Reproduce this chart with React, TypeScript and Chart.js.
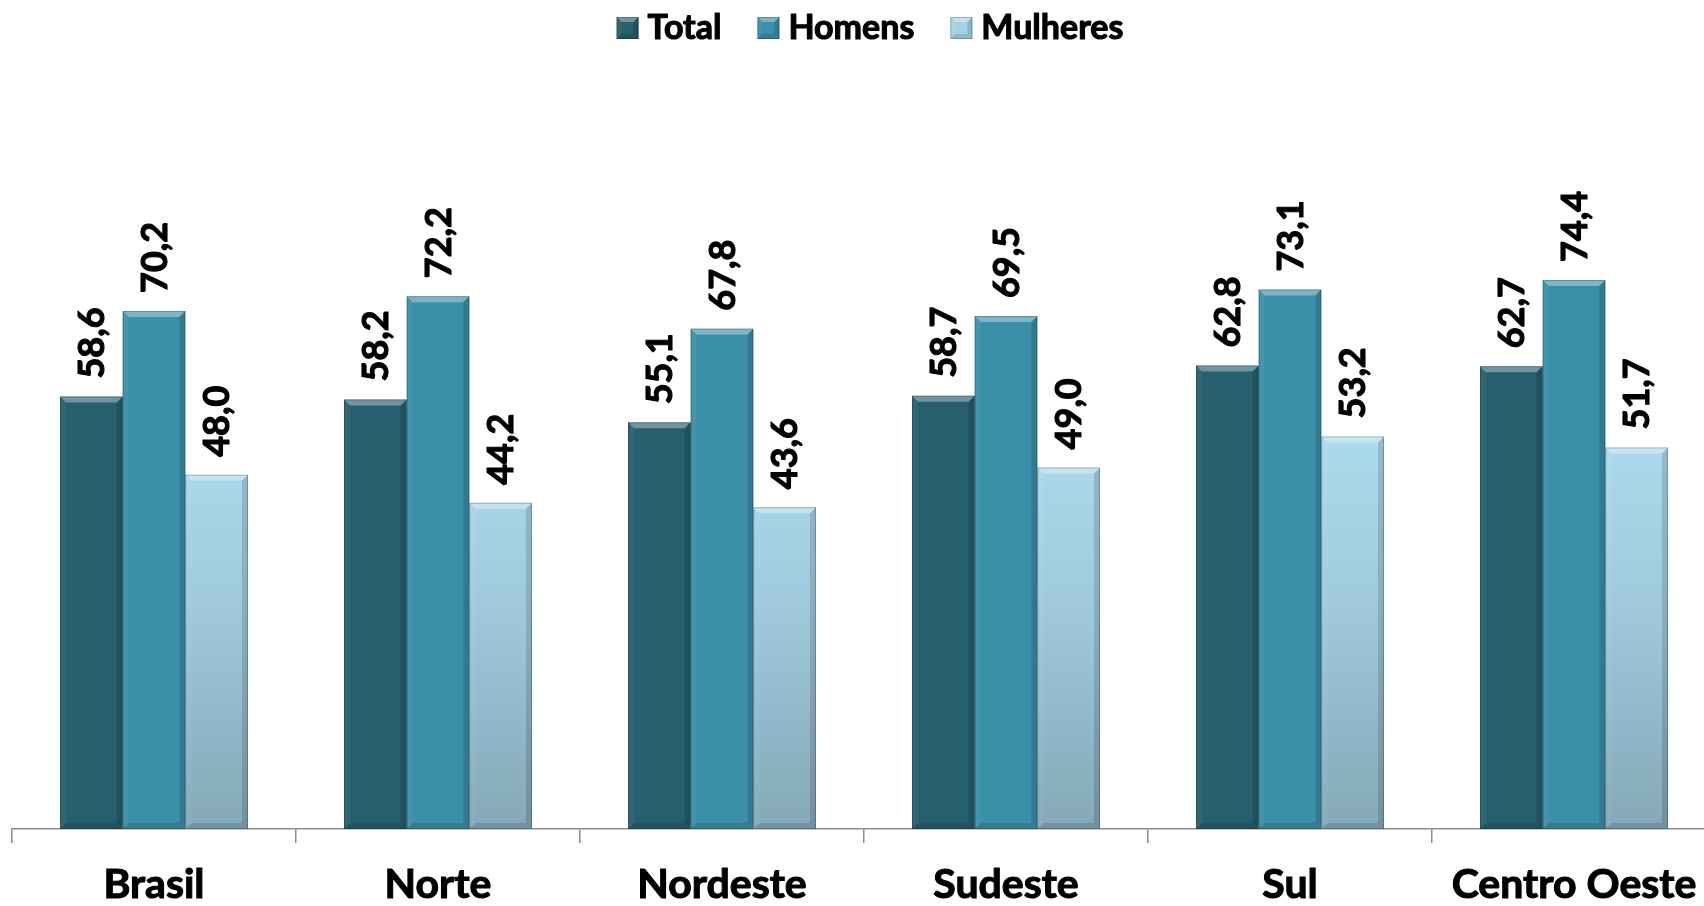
import React, { useEffect, useRef } from "react";
import { Chart, registerables } from "chart.js";

Chart.register(...registerables);

const categories = ["Brasil", "Norte", "Nordeste", "Sudeste", "Sul", "Centro Oeste"];
const totalValues = [58.6, 58.2, 55.1, 58.7, 62.8, 62.7];
const homensValues = [70.2, 72.2, 67.8, 69.5, 73.1, 74.4];
const mulheresValues = [48.0, 44.2, 43.6, 49.0, 53.2, 51.7];
const seriesLabels = ["Total", "Homens", "Mulheres"];
const seriesColors = ["#265f6e", "#3a8fa9", "#a3d2e4"];
const yMax = 100;

const FONT = "Lato, 'Open Sans', sans-serif";

function fmt(v: number) {
  return v.toFixed(1).replace(".", ",");
}

function bevel(ctx: CanvasRenderingContext2D, left: number, top: number, right: number, bottom: number, b: number) {
  const poly = (pts: number[][], fill: string) => {
    ctx.beginPath();
    ctx.moveTo(pts[0][0], pts[0][1]);
    for (let i = 1; i < pts.length; i++) ctx.lineTo(pts[i][0], pts[i][1]);
    ctx.closePath();
    ctx.fillStyle = fill;
    ctx.fill();
  };
  poly([[left, top], [right, top], [right - b, top + b], [left + b, top + b]], "rgba(255,255,255,0.34)");
  poly([[left, top], [left + b, top + b], [left + b, bottom - b], [left, bottom]], "rgba(255,255,255,0.05)");
  poly([[right, top], [right - b, top + b], [right - b, bottom - b], [right, bottom]], "rgba(0,0,0,0.14)");
  poly([[left, bottom], [left + b, bottom - b], [right - b, bottom - b], [right, bottom]], "rgba(0,0,0,0.12)");
  ctx.strokeStyle = "rgba(0,0,0,0.22)";
  ctx.lineWidth = 1;
  ctx.strokeRect(left + 0.5, top + 0.5, right - left - 1, bottom - top - 1);
}

function heavyText(ctx: CanvasRenderingContext2D, text: string, x: number, y: number) {
  ctx.lineWidth = 1.1;
  ctx.strokeStyle = "#000";
  ctx.lineJoin = "round";
  ctx.strokeText(text, x, y);
  ctx.fillText(text, x, y);
}

const barDecorPlugin = {
  id: "barDecor",
  afterDatasetsDraw(chart: any) {
    const ctx: CanvasRenderingContext2D = chart.ctx;
    ctx.save();
    chart.data.datasets.forEach((ds: any, di: number) => {
      const meta = chart.getDatasetMeta(di);
      meta.data.forEach((bar: any, i: number) => {
        const { x, y, base, width } = bar.getProps(["x", "y", "base", "width"], true);
        const left = x - width / 2;
        const right = x + width / 2;
        bevel(ctx, left, y, right, base, 6);
        ctx.save();
        ctx.translate(x + 1, y - 18);
        ctx.rotate(-Math.PI / 2);
        ctx.font = `bold 36px ${FONT}`;
        ctx.fillStyle = "#000";
        ctx.textAlign = "left";
        ctx.textBaseline = "middle";
        heavyText(ctx, fmt(ds.data[i]), 0, 0);
        ctx.restore();
      });
    });
    ctx.restore();
  },
  afterDraw(chart: any) {
    const ctx: CanvasRenderingContext2D = chart.ctx;
    ctx.save();
    ctx.font = `bold 34px ${FONT}`;
    const box = 22;
    const gap = 9;
    const spacing = 36;
    const widths = chart.data.datasets.map((ds: any) => box + gap + ctx.measureText(ds.label).width);
    const total = widths.reduce((a: number, b: number) => a + b, 0) + spacing * (widths.length - 1);
    let x = 870 - total / 2;
    const baseline = 39;
    chart.data.datasets.forEach((ds: any, di: number) => {
      const top = 17;
      ctx.fillStyle = seriesColors[di];
      ctx.fillRect(x, top, box, box);
      bevel(ctx, x, top, x + box, top + box, 5);
      ctx.fillStyle = "#000";
      ctx.textAlign = "left";
      ctx.textBaseline = "alphabetic";
      heavyText(ctx, ds.label, x + box + gap, baseline);
      x += widths[di] + spacing;
    });
    ctx.restore();
  },
};

export default function App() {
  const canvasRef = useRef<HTMLCanvasElement | null>(null);

  useEffect(() => {
    const canvas = canvasRef.current;
    if (!canvas) return;
    const mulheresFill = (c: any) => {
      const chart = c.chart;
      const area = chart.chartArea;
      if (!area) return seriesColors[2];
      const g = chart.ctx.createLinearGradient(0, area.bottom, 0, 420);
      g.addColorStop(0, "#84a8b8");
      g.addColorStop(0.55, "#a0cadb");
      g.addColorStop(1, "#acdcef");
      return g;
    };
    const chart = new Chart(canvas, {
      type: "bar",
      data: {
        labels: categories,
        datasets: [
          { label: seriesLabels[0], data: totalValues, backgroundColor: seriesColors[0] },
          { label: seriesLabels[1], data: homensValues, backgroundColor: seriesColors[1] },
          { label: seriesLabels[2], data: mulheresValues, backgroundColor: mulheresFill as any },
        ],
      },
      options: {
        responsive: false,
        animation: false,
        devicePixelRatio: 1,
        layout: { padding: { top: 91, left: 12, right: 4, bottom: 0 } },
        datasets: { bar: { categoryPercentage: 0.662, barPercentage: 1.0 } } as any,
        plugins: {
          legend: { display: false },
          tooltip: { enabled: false },
        },
        scales: {
          x: {
            offset: true,
            afterFit: (scale: any) => {
              scale.height = 77;
            },
            grid: {
              offset: true,
              drawOnChartArea: false,
              drawTicks: true,
              tickLength: 14,
              color: "#8c8c8c",
              lineWidth: 1.5,
            },
            border: { display: true, color: "#8c8c8c", width: 1.5 },
            ticks: {
              padding: 17,
              color: "#000",
              font: { family: FONT, size: 41, weight: "bold" },
              textStrokeColor: "#000",
              textStrokeWidth: 1.1,
              maxRotation: 0,
              autoSkip: false,
            } as any,
          },
          y: {
            display: false,
            min: 0,
            max: yMax,
          },
        },
      },
      plugins: [barDecorPlugin],
    });
    return () => chart.destroy();
  }, []);

  return (
    <div style={{ position: "fixed", left: 0, top: 0, width: 1704, height: 906, overflow: "hidden", background: "#fff" }}>
      <canvas ref={canvasRef} width={1720} height={906} style={{ display: "block", width: 1720, height: 906 }} />
    </div>
  );
}
